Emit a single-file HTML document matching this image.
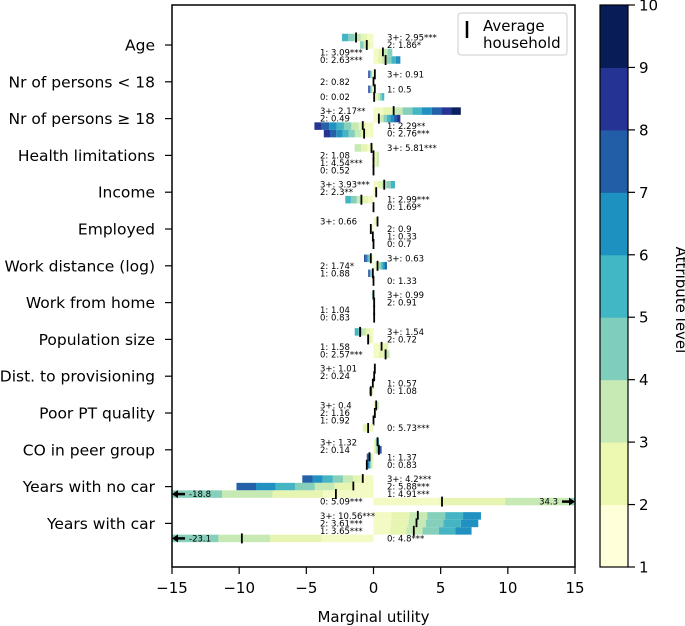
<!DOCTYPE html>
<html><head><meta charset="utf-8"><style>
html,body{margin:0;padding:0;background:#fff;}
svg{display:block;font-family:"DejaVu Sans","Liberation Sans",sans-serif;}
</style></head><body>
<svg id="chart" width="685" height="626" viewBox="0 0 685 626">
<g id="bars"></g>
<g id="labels"></g>
<rect x="172" y="5" width="403" height="562" fill="none" stroke="#000" stroke-width="1.5"/>
<g id="yaxis"></g>
<g id="xaxis"></g>
<text x="373.5" y="622" font-size="15" text-anchor="middle">Marginal utility</text>
<g>
<rect x="458" y="13" width="109" height="42" rx="3" fill="#fff" stroke="#ccc" stroke-width="1"/>
<line x1="467" y1="21" x2="467" y2="38" stroke="#000" stroke-width="2.5"/>
<text x="483" y="31" font-size="15">Average</text>
<text x="483" y="48" font-size="15">household</text>
</g>
<g id="cbar"></g>
<text x="676" y="300" font-size="15" text-anchor="middle" transform="rotate(90 676 300)">Attribute level</text>
</svg>
<script>
const categories=["Age","Nr of persons < 18","Nr of persons ≥ 18","Health limitations","Income","Employed","Work distance (log)","Work from home","Population size","Dist. to provisioning","Poor PT quality","CO in peer group","Years with no car","Years with car"];
const rowKeys=["3+","2","1","0"];
const barEnds=[[-2.35,-1.0,1.4,2.0],[-0.4,0.02,-0.4,0.8],[6.5,2.0,-4.4,-3.7],[-1.4,0.4,0.4,0.02],[1.6,0.3,-2.1,-0.01],[0.3,-0.2,-0.1,-0.01],[-0.7,1.0,-0.4,-0.01],[-0.1,-0.05,0.05,0.05],[-1.4,-0.4,1.1,1.2],[0.1,0.1,-0.1,-0.3],[0.4,0.2,0.05,-0.8],[0.4,0.6,-0.5,-0.5],[-5.3,-10.2,-18.8,34.3],[8.0,7.8,7.3,-23.1]];
const segCounts=[[5,4,4,6],[8,2,8,5],[9,8,8,8],[3,3,3,1],[5,2,5,1],[2,2,2,1],[8,7,8,1],[5,3,3,1],[5,3,2,3],[7,2,8,8],[3,2,2,2],[6,8,8,8],[7,7,5,7],[6,6,6,6]];
const means=[[-1.3,-0.5,0.7,0.9],[0.1,0,0.1,0.05],[1.5,0.4,-0.8,-0.7],[-0.15,0,0,0],[0.8,0.2,-0.9,0],[0.3,-0.2,-0.05,0],[-0.2,0.3,-0.05,0],[0,0.05,0.05,0.05],[-1.0,-0.4,0.6,0.9],[0.1,0.05,-0.05,-0.2],[0.2,0.1,0,-0.4],[0.3,0.4,-0.3,-0.5],[-0.8,-1.5,-2.8,5.1],[3.3,3.2,3.0,-9.8]];
const valueLabels=[["2.95***","1.86*","3.09***","2.63***"],["0.91","0.82","0.5","0.02"],["2.17**","0.49","2.29**","2.76***"],["5.81***","1.08","4.54***","0.52"],["3.93***","2.3**","2.99***","1.69*"],["0.66","0.9","0.33","0.7"],["0.63","1.74*","0.88","1.33"],["0.99","0.91","1.04","0.83"],["1.54","0.72","1.58","2.57***"],["1.01","0.24","0.57","1.08"],["0.4","1.16","0.92","5.73***"],["1.32","0.14","1.37","0.83"],["4.2***","5.88***","4.91***","5.09***"],["10.56***","3.61***","3.65***","4.8***"]];
const labelSides=[["R","R","L","L"],["R","L","R","L"],["L","L","R","R"],["R","L","L","L"],["L","L","R","R"],["L","R","R","R"],["R","L","L","R"],["R","R","L","L"],["R","R","L","L"],["L","L","R","R"],["L","L","L","R"],["L","L","R","R"],["R","R","R","L"],["L","L","L","R"]];
const xTicks=[-15,-10,-5,0,5,10,15];
const cbarTicks=[1,2,3,4,5,6,7,8,9,10];
const palette=["#f4fac4","#e6f5b2","#c7e9b4","#86cfbb","#45b5c4","#2091c0","#2461a9","#263594","#0b1f5c"];
const cbarColors=["#ffffd9","#edf8b1","#c7e9b4","#7fcdbb","#41b6c4","#1d91c0","#225ea8","#253494","#081d58"];

const NS="http://www.w3.org/2000/svg";
const X0=172,X1=575,XMIN=-15,XMAX=15;
const xs=v=>X0+(v-XMIN)/(XMAX-XMIN)*(X1-X0);
const catY=i=>45+i*36.8;
const rowY=(i,r)=>catY(i)-7.5+r*7.5;
const cl=v=>Math.max(XMIN,Math.min(XMAX,v));
function mk(tag,attrs,parent){const e=document.createElementNS(NS,tag);for(const k in attrs)e.setAttribute(k,attrs[k]);parent.appendChild(e);return e;}
const gB=document.getElementById('bars'),gL=document.getElementById('labels');
categories.forEach((c,i)=>{
  rowKeys.forEach((k,r)=>{
    const end=barEnds[i][r],n=segCounts[i][r],yc=rowY(i,r);
    for(let s=0;s<n;s++){
      const a=cl(end*s/n),b=cl(end*(s+1)/n);
      if(Math.abs(xs(b)-xs(a))<0.01)continue;
      const rc=mk('rect',{x:Math.min(xs(a),xs(b)),y:yc-3.75,width:Math.abs(xs(b)-xs(a)),height:7.5,fill:palette[Math.min(s,8)]},gB);
      
      
    }
    const m=mk('line',{x1:xs(means[i][r]),x2:xs(means[i][r]),y1:yc-5,y2:yc+5,stroke:'#000','stroke-width':1.8},gB);
    
    
    if(end<XMIN||end>XMAX){
      const left=end<XMIN;
      const ax=left?X0:X1, tail=left?X0+13:X1-13;
      const ar=mk('g',{},gB);
      
      
      mk('line',{x1:tail,x2:ax+(left?3:-3),y1:yc,y2:yc,stroke:'#000','stroke-width':2.5},ar);
      mk('polygon',{points:`${ax},${yc} ${ax+(left?6:-6)},${yc-4} ${ax+(left?6:-6)},${yc+4}`,fill:'#000'},ar);
      const t=mk('text',{x:left?X0+17:X1-17,y:yc+3,'font-size':8.5,'text-anchor':left?'start':'end'},ar);
      t.textContent=String(end);
      
      
    }
    const side=labelSides[i][r];
    const t=mk('text',{x:side==='L'?320:387,y:yc+3,'font-size':8.5},gL);
    t.textContent=k+": "+valueLabels[i][r];
    
    
  });
});
const gY=document.getElementById('yaxis');
categories.forEach((c,i)=>{
  mk('line',{x1:165,x2:172,y1:catY(i),y2:catY(i),stroke:'#000','stroke-width':1.2},gY);
  const t=mk('text',{x:155,y:catY(i)+5.5,'font-size':15.5,'text-anchor':'end'},gY);
  t.textContent=c;
  
  
});
const gX=document.getElementById('xaxis');
xTicks.forEach(v=>{
  mk('line',{x1:xs(v),x2:xs(v),y1:567,y2:574,stroke:'#000','stroke-width':1.2},gX);
  const t=mk('text',{x:xs(v),y:593,'font-size':15,'text-anchor':'middle'},gX);
  t.textContent=(v<0?"\u2212"+Math.abs(v):String(v));
  
  
});
const gC=document.getElementById('cbar');
const CY0=5,CY1=567,cy=v=>CY1-(v-1)/9*(CY1-CY0);
cbarColors.forEach((col,k)=>{
  const rc=mk('rect',{x:600,y:cy(k+2),width:28,height:cy(k+1)-cy(k+2)+0.5,fill:col},gC);
  
  
});
mk('rect',{x:600,y:CY0,width:28,height:CY1-CY0,fill:'none',stroke:'#000','stroke-width':1.2},gC);
cbarTicks.forEach(v=>{
  mk('line',{x1:628,x2:635,y1:cy(v),y2:cy(v),stroke:'#000','stroke-width':1.2},gC);
  const t=mk('text',{x:639,y:cy(v)+5.5,'font-size':15},gC);
  t.textContent=String(v);
  
  
});
</script>
</body></html>
